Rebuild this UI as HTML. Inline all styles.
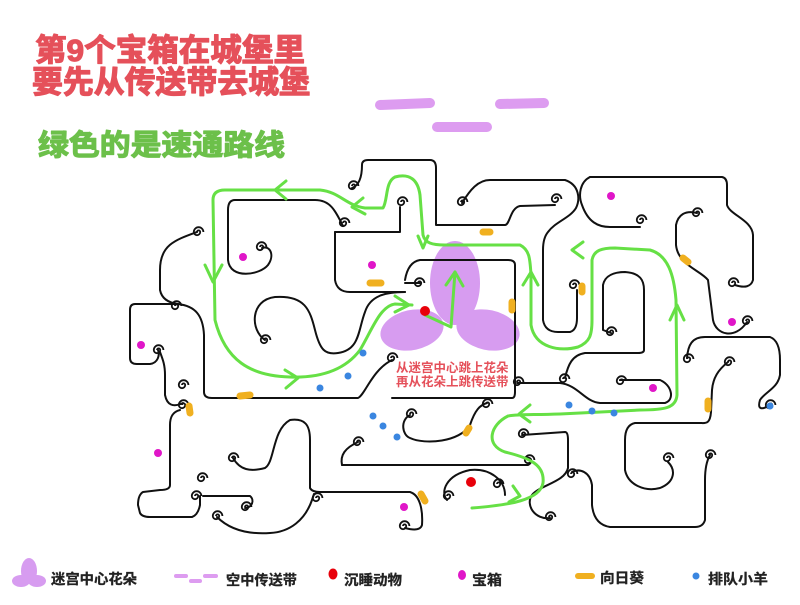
<!DOCTYPE html>
<html><head><meta charset="utf-8"><style>
body{margin:0;background:#fff;width:800px;height:600px;overflow:hidden;font-family:"Liberation Sans","Noto Sans CJK SC",sans-serif}
</style></head><body>
<svg width="800" height="600" viewBox="0 0 800 600" xmlns="http://www.w3.org/2000/svg">
<defs>
<path id="sp" d="M0,0 a1.6,1.6 0 1,1 3.2,0 a3.2,3.2 0 1,1 -6.4,0 a4.8,4.8 0 1,1 9.6,0" fill="none" stroke="#111" stroke-width="1.8"/>
</defs>
<rect width="800" height="600" fill="#fff"/>
<g font-weight="bold" font-family="'Liberation Sans','Noto Sans CJK SC',sans-serif" stroke-width="1.2" stroke-linejoin="round">
<text x="35" y="61" font-size="31" fill="#e5505a" stroke="#e5505a" textLength="270" lengthAdjust="spacingAndGlyphs">第9个宝箱在城堡里</text>
<text x="32" y="93" font-size="31" fill="#e5505a" stroke="#e5505a" textLength="278" lengthAdjust="spacingAndGlyphs">要先从传送带去城堡</text>
<text x="38" y="155" font-size="29" fill="#6cc04a" stroke="#6cc04a" textLength="247" lengthAdjust="spacingAndGlyphs">绿色的是速通路线</text>
</g>
<g stroke="#dd9cf0" stroke-width="10" stroke-linecap="round">
<line x1="380" y1="105" x2="430" y2="103"/><line x1="437" y1="127" x2="487" y2="127"/><line x1="500" y1="104" x2="544" y2="103"/>
</g>
<g fill="#d79cf0">
<ellipse cx="455" cy="283" rx="25" ry="42"/>
<ellipse cx="412" cy="330" rx="32" ry="20" transform="rotate(-12 412 330)"/>
<ellipse cx="488" cy="330" rx="32" ry="20" transform="rotate(12 488 330)"/>
</g>
<g fill="none" stroke="#111" stroke-width="2" stroke-linecap="round" stroke-linejoin="round">
<path d="M197,232 C175,240 160,245 160,270 L160,290 C162,300 170,303 178,304 C195,306 203,315 204,335 L204,392 Q204,398 212,398 L358,398 C365,395 372,370 392,360"/>
<path d="M392,398 L512,398 Q515,398 515,392 L515,265 Q515,260 508,260 L420,260 Q408,262 405,280"/>
<path d="M178,304 L135,304 Q130,304 130,310 L130,358 Q130,364 137,364 L150,364 C158,363 160,355 158,350"/>
<path d="M160,352 C163,360 165,365 165,375 L165,395 Q168,410 183,403"/>
<path d="M180,410 C172,412 170,418 170,425 L170,485 Q170,490 160,490 L143,492 Q138,495 138,505 L140,513 Q142,517 150,517 L192,517 Q198,515 200,505 L200,496"/>
<path d="M203,496 L250,496 C255,500 252,508 245,508"/>
<path d="M343,226 C335,210 330,200 315,200 L235,200 Q228,200 228,210 L228,260 C230,280 260,275 268,265 C275,255 270,245 262,248"/>
<path d="M352,188 C360,185 362,175 362,165 Q362,160 368,160 L430,160 Q436,160 436,168 L436,225 L505,225 C510,225 510,208 520,206 L555,205"/>
<path d="M335,232 L400,232 L400,207"/>
<path d="M335,232 L335,280 Q337,292 350,292 L405,292"/>
<path d="M265,340 C250,330 250,300 275,297 C305,295 310,310 315,330 C320,350 325,355 338,353 C360,350 358,330 365,312 C370,296 385,292 405,292"/>
<path d="M462,203 C470,190 478,180 490,180 L565,180 C580,185 580,200 576,208 C570,218 555,222 548,232 Q543,238 543,250 L543,320 Q545,332 558,332 L570,332 Q577,330 577,318 L577,290"/>
<path d="M590,177 L722,177 Q727,178 727,185 L727,205 C730,215 752,220 753,235 L753,280 Q750,290 735,285"/>
<path d="M590,177 C580,182 578,195 582,205 C588,222 598,227 610,227 L640,227"/>
<path d="M697,213 C685,210 678,215 676,225 L676,245 C678,265 700,270 708,280 L713,320 C716,335 735,340 747,322"/>
<path d="M611,333 L603,330 L603,285 C605,275 615,272 625,272 C640,273 644,280 644,290 L644,350 Q644,353 638,353 L585,353 C572,355 568,365 565,378"/>
<path d="M517,383 L560,383 C578,385 585,402 600,403 L665,403 C675,400 672,385 660,380 L620,380"/>
<path d="M687,358 C688,345 692,337 705,337 L770,337 C778,340 780,350 780,360 L780,375 C778,388 765,392 760,400 C757,410 762,410 770,405"/>
<path d="M728,362 C718,370 713,378 712,390 L711,412 C710,425 705,423 700,423 L635,423 Q625,425 625,440 L625,470 C628,485 645,492 660,488 C675,482 676,470 668,462"/>
<path d="M710,455 C706,462 705,470 705,480 L705,520 Q703,527 695,527 L610,527 C597,525 593,515 592,505 L592,485 C590,472 580,468 572,472"/>
<path d="M522,435 L565,432 Q568,432 568,440 L568,468 C565,482 540,485 532,495 C525,505 535,520 550,518"/>
<path d="M342,465 L528,465 C534,462 530,456 526,458"/>
<path d="M358,442 C345,448 340,455 342,465"/>
<path d="M410,415 C400,420 402,435 410,438 C425,445 460,442 470,425 C475,410 480,405 487,403"/>
<path d="M447,500 C440,492 446,475 470,470 C490,468 505,480 505,495"/>
<path d="M233,458 C240,470 250,472 265,468 C275,462 272,430 290,420 C305,418 310,425 310,440 L310,488 Q312,492 320,492 L410,492 C420,495 423,510 422,525 Q420,532 405,528"/>
<path d="M217,517 C225,525 240,535 270,533 C290,532 305,520 312,500 L314,494"/>
<path d="M420,283 L405,283"/>
</g>
<g>
<use href="#sp" x="197" y="232"/><use href="#sp" x="175" y="306"/><use href="#sp" x="157" y="350"/><use href="#sp" x="182" y="405"/>
<use href="#sp" x="343" y="223"/><use href="#sp" x="401" y="202"/><use href="#sp" x="352" y="186"/><use href="#sp" x="260" y="247"/>
<use href="#sp" x="264" y="340"/><use href="#sp" x="418" y="283"/><use href="#sp" x="391" y="358"/><use href="#sp" x="461" y="202"/>
<use href="#sp" x="555" y="199"/><use href="#sp" x="640" y="220"/><use href="#sp" x="696" y="213"/><use href="#sp" x="732" y="283"/>
<use href="#sp" x="746" y="321"/><use href="#sp" x="573" y="285"/><use href="#sp" x="610" y="332"/><use href="#sp" x="563" y="379"/>
<use href="#sp" x="517" y="382"/><use href="#sp" x="620" y="381"/><use href="#sp" x="687" y="359"/><use href="#sp" x="728" y="362"/>
<use href="#sp" x="769" y="405"/><use href="#sp" x="709" y="455"/><use href="#sp" x="667" y="458"/><use href="#sp" x="571" y="474"/>
<use href="#sp" x="522" y="434"/><use href="#sp" x="528" y="460"/><use href="#sp" x="549" y="517"/><use href="#sp" x="497" y="484"/>
<use href="#sp" x="447" y="496"/><use href="#sp" x="410" y="414"/><use href="#sp" x="486" y="404"/><use href="#sp" x="357" y="442"/>
<use href="#sp" x="232" y="458"/><use href="#sp" x="245" y="507"/><use href="#sp" x="216" y="516"/><use href="#sp" x="201" y="478"/>
<use href="#sp" x="195" y="496"/><use href="#sp" x="316" y="498"/><use href="#sp" x="403" y="526"/><use href="#sp" x="182" y="385"/>
</g>
<g fill="none" stroke="#66e045" stroke-width="3" stroke-linecap="round" stroke-linejoin="round">
<path d="M412,305 L395,304 C380,306 372,330 360,350 C345,370 320,378 290,377 C250,376 225,360 215,320 L213,200 Q213,190 225,190 L320,190 C340,192 345,205 365,208 L383,208 C388,200 385,182 395,177 C410,173 418,180 420,195 L423,235 C425,243 432,245 445,245 L520,245 C530,250 530,260 531,275 L531,325 C535,348 560,352 578,347 C590,342 592,335 592,320 L592,260 C594,250 602,248 615,248 L650,250 C668,255 674,275 676,300 L677,395 C676,408 665,410 640,410 L560,414 C530,415 520,414 508,416 C490,425 485,445 505,452 C530,458 545,465 543,483 C540,500 510,505 472,508"/>
<path d="M425,315 L451,327 L455,272"/>
<path d="M446,285 L455,272 L463,286"/>
<path d="M286,181 L275,190 L286,199"/>
<path d="M205,265 L213,282 L222,265"/>
<path d="M285,370 L298,378 L286,388"/>
<path d="M395,296 L409,305 L395,312"/>
<path d="M363,198 L352,207 L365,214"/>
<path d="M418,236 L423,248 L428,236"/>
<path d="M523,285 L531,272 L538,285"/>
<path d="M670,320 L677,305 L684,320"/>
<path d="M583,242 L572,250 L583,258"/>
<path d="M530,405 L519,414 L530,422"/>
<path d="M513,486 L520,496 L509,502"/>
</g>
<g fill="#e016c8">
<circle cx="243" cy="257" r="4"/><circle cx="372" cy="265" r="4"/><circle cx="141" cy="345" r="4"/><circle cx="611" cy="196" r="4"/>
<circle cx="732" cy="322" r="4"/><circle cx="653" cy="388" r="4"/><circle cx="158" cy="453" r="4"/><circle cx="404" cy="507" r="4"/>
</g>
<g fill="#e8000a"><circle cx="425" cy="311" r="5"/><circle cx="471" cy="482" r="5"/></g>
<g fill="#3a86e0">
<circle cx="320" cy="388" r="3.5"/><circle cx="348" cy="376" r="3.5"/><circle cx="363" cy="353" r="3.5"/>
<circle cx="373" cy="416" r="3.5"/><circle cx="383" cy="426" r="3.5"/><circle cx="397" cy="437" r="3.5"/>
<circle cx="569" cy="405" r="3.5"/><circle cx="592" cy="411" r="3.5"/><circle cx="614" cy="413" r="3.5"/><circle cx="770" cy="406" r="3.5"/>
</g>
<g stroke="#f0b020" stroke-width="7" stroke-linecap="round">
<line x1="240" y1="396" x2="250" y2="395"/><line x1="370" y1="283" x2="381" y2="283"/><line x1="483" y1="232" x2="490" y2="232"/>
<line x1="512" y1="302" x2="512" y2="310"/><line x1="582" y1="286" x2="582" y2="292"/><line x1="683" y1="258" x2="688" y2="262"/>
<line x1="708" y1="401" x2="708" y2="409"/><line x1="466" y1="433" x2="469" y2="428"/><line x1="421" y1="494" x2="425" y2="501"/>
<line x1="189" y1="406" x2="190" y2="413"/>
</g>
<g font-weight="bold" font-size="12.5" fill="#e5505a" font-family="'Liberation Sans','Noto Sans CJK SC',sans-serif">
<text x="396" y="372">从迷宫中心跳上花朵</text>
<text x="396" y="386">再从花朵上跳传送带</text>
</g>
<!-- legend -->
<g fill="#d79cf0"><ellipse cx="29" cy="571" rx="8" ry="13"/><ellipse cx="21" cy="581" rx="9" ry="6"/><ellipse cx="37" cy="581" rx="9" ry="6"/></g>
<g stroke="#dd9cf0" stroke-width="4" stroke-linecap="round"><line x1="176" y1="576" x2="186" y2="576"/><line x1="191" y1="581" x2="200" y2="581"/><line x1="205" y1="576" x2="216" y2="576"/></g>
<ellipse cx="333" cy="574" rx="4.5" ry="5.5" fill="#e8000a"/>
<ellipse cx="462" cy="575" rx="4" ry="5" fill="#e016c8"/>
<line x1="578" y1="576" x2="592" y2="576" stroke="#f0b020" stroke-width="6" stroke-linecap="round"/>
<circle cx="696" cy="576" r="3.5" fill="#3a86e0"/>
<g font-weight="bold" font-size="14" fill="#222" font-family="'Liberation Sans','Noto Sans CJK SC',sans-serif" stroke="#222" stroke-width="0.3">
<text x="51" y="584" textLength="86" lengthAdjust="spacingAndGlyphs">迷宫中心花朵</text>
<text x="226" y="585" textLength="71" lengthAdjust="spacingAndGlyphs">空中传送带</text>
<text x="344" y="585" textLength="58" lengthAdjust="spacingAndGlyphs">沉睡动物</text>
<text x="472" y="585" textLength="30" lengthAdjust="spacingAndGlyphs">宝箱</text>
<text x="600" y="583" textLength="44" lengthAdjust="spacingAndGlyphs">向日葵</text>
<text x="708" y="584" textLength="60" lengthAdjust="spacingAndGlyphs">排队小羊</text>
</g>
</svg>
</body></html>
